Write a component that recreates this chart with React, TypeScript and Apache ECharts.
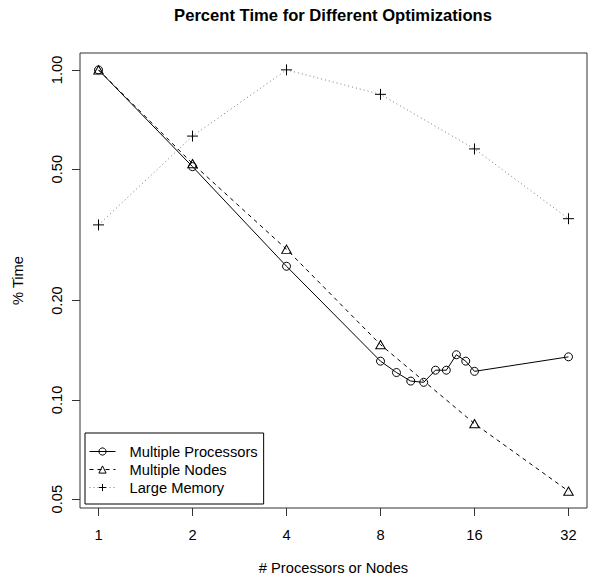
import React, { useEffect, useRef } from "react";
import * as echarts from "echarts";

const xTicks = [1, 2, 4, 8, 16, 32];
const yTicks = [0.05, 0.1, 0.2, 0.5, 1.0];

const seriesNames = ["Multiple Processors", "Multiple Nodes", "Large Memory"];

const procX = [1, 2, 4, 8, 9, 10, 11, 12, 13, 14, 15, 16, 32];
const procY = [1.0, 0.509, 0.254, 0.131, 0.121, 0.114, 0.113, 0.123, 0.123, 0.137, 0.131, 0.122, 0.135];

const nodeX = [1, 2, 4, 8, 16, 32];
const nodeY = [1.0, 0.52, 0.286, 0.147, 0.0847, 0.0529];

const memX = [1, 2, 4, 8, 16, 32];
const memY = [0.339, 0.63, 1.0, 0.843, 0.576, 0.354];

const FONT = '"Liberation Sans", Arial, Helvetica, sans-serif';
const PLUS = "path://M5,0 L5,10 M0,5 L10,5";

const pairs = (xs: number[], ys: number[]) => xs.map((x, i) => [x, ys[i]]);

export default function App() {
  const ref = useRef<HTMLDivElement>(null);
  useEffect(() => {
    document.body.style.margin = "0";
    const chart = echarts.init(ref.current!, null, { renderer: "svg" });
    const txt = { fontFamily: FONT, fontSize: 14.7, color: "#000" };
    chart.setOption({
      animation: false,
      backgroundColor: "#fff",
      title: {
        text: "Percent Time for Different Optimizations",
        left: 333,
        top: 7,
        textAlign: "center",
        padding: 0,
        textStyle: { fontFamily: FONT, fontSize: 16.6, fontWeight: "bold", color: "#000" },
      },
      grid: {
        left: 80,
        right: 13,
        top: 53,
        bottom: 78,
        show: true,
        borderColor: "#333",
        borderWidth: 1,
        backgroundColor: "transparent",
      },
      legend: {
        orient: "vertical",
        left: 85,
        top: 433,
        padding: [11, 6, 9, 4],
        itemWidth: 26,
        itemHeight: 9,
        itemGap: 3,
        borderColor: "#000",
        borderWidth: 1,
        data: seriesNames,
        lineStyle: { width: 1 },
        itemStyle: { borderWidth: 1 },
        textStyle: { ...txt, padding: [0, 0, 0, 9] },
      },
      xAxis: {
        type: "log",
        logBase: 2,
        min: 0.8723,
        max: 36.68,
        name: "# Processors or Nodes",
        nameLocation: "middle",
        nameGap: 52,
        nameTextStyle: txt,
        axisLine: { show: false },
        axisTick: { show: true, length: 8, customValues: xTicks, lineStyle: { color: "#333" } },
        axisLabel: {
          customValues: xTicks,
          formatter: (v: number) => String(Math.round(v)),
          margin: 19,
          ...txt,
        },
        splitLine: { show: false },
        minorTick: { show: false },
      },
      yAxis: {
        type: "log",
        logBase: 10,
        min: 0.04702,
        max: 1.1249,
        name: "% Time",
        nameLocation: "middle",
        nameGap: 55,
        nameTextStyle: txt,
        axisLine: { show: false },
        axisTick: { show: true, length: 8, customValues: yTicks, lineStyle: { color: "#333" } },
        axisLabel: {
          customValues: yTicks,
          formatter: (v: number) => v.toFixed(2),
          rotate: 90,
          margin: 16,
          ...txt,
        },
        splitLine: { show: false },
        minorTick: { show: false },
      },
      series: [
        {
          name: seriesNames[0],
          type: "line",
          data: pairs(procX, procY),
          symbol: "circle",
          symbolSize: 8,
          itemStyle: { color: "transparent", borderColor: "#000", borderWidth: 1 },
          lineStyle: { color: "#000", width: 1, type: "solid" },
        },
        {
          name: seriesNames[1],
          type: "line",
          data: pairs(nodeX, nodeY),
          symbol: "triangle",
          symbolSize: [9.5, 8.2],
          itemStyle: { color: "transparent", borderColor: "#000", borderWidth: 1 },
          lineStyle: { color: "#000", width: 1, type: [4, 4] },
        },
        {
          name: seriesNames[2],
          type: "line",
          data: pairs(memX, memY),
          symbol: PLUS,
          symbolSize: 11,
          itemStyle: { color: "none", borderColor: "#000", borderWidth: 1 },
          lineStyle: { color: "#777", width: 1, type: [1, 3] },
        },
      ],
    });
    return () => chart.dispose();
  }, []);
  return <div ref={ref} style={{ width: 600, height: 586 }} />;
}
